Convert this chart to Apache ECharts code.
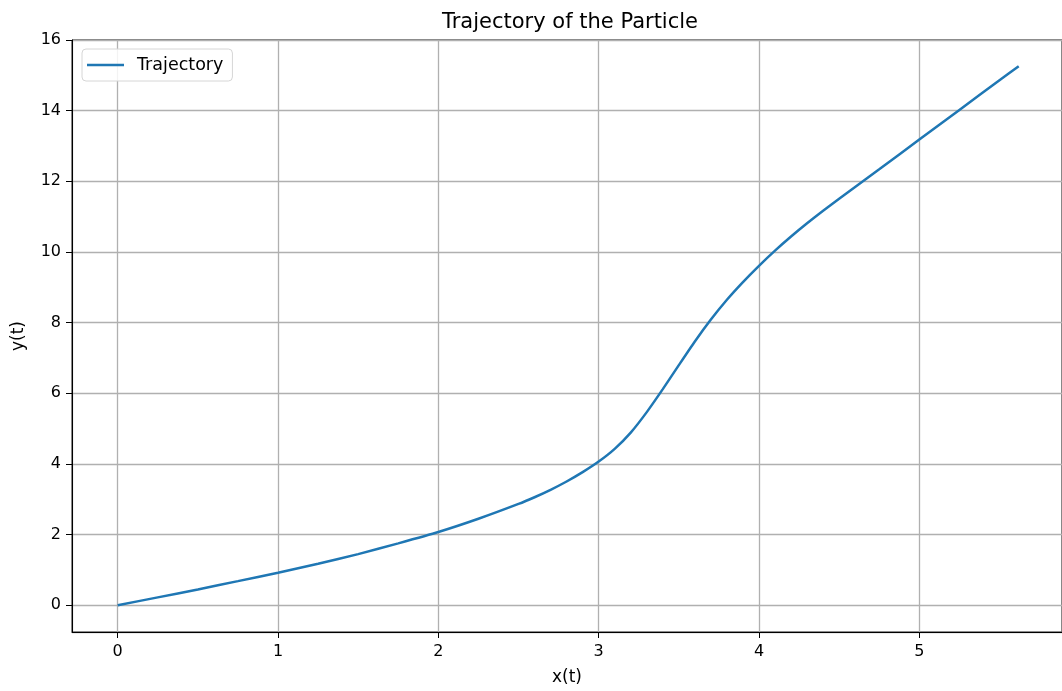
<!DOCTYPE html>
<html>
<head>
<meta charset="utf-8">
<script src="https://cdn.jsdelivr.net/npm/echarts@6/dist/echarts.min.js"></script>
<style>
html,body{margin:0;padding:0;background:#fff;}
#chart{width:1062px;height:691px;}
</style>
</head>
<body>
<div id="chart"></div>
<script>
// Data
const xValues = [0, 0.25, 0.5, 0.75, 1, 1.25, 1.5, 1.75, 2, 2.25, 2.5, 2.6, 2.7, 2.8, 2.9, 3, 3.1, 3.2, 3.3, 3.4, 3.5, 3.6, 3.7, 3.8, 3.9, 4, 4.1, 4.2, 4.3, 4.4, 4.5, 4.75, 5, 5.25, 5.5, 5.62];
const yValues = [0, 0.22, 0.445, 0.68, 0.92, 1.17, 1.445, 1.75, 2.07, 2.445, 2.865, 3.055, 3.265, 3.5, 3.765, 4.065, 4.425, 4.885, 5.465, 6.115, 6.795, 7.465, 8.085, 8.645, 9.145, 9.605, 10.035, 10.435, 10.81, 11.165, 11.505, 12.34, 13.18, 14.02, 14.86, 15.26];
const seriesName = 'Trajectory';
const chartTitle = 'Trajectory of the Particle';
const xLabel = 'x(t)';
const yLabel = 'y(t)';

const points = xValues.map((x, i) => [x, yValues[i]]);
const FONT = 'DejaVu Sans';
const isInt = v => Math.abs(v - Math.round(v)) < 1e-6;

const chart = echarts.init(document.getElementById('chart'), null, {renderer: 'canvas'});
chart.setOption({
  animation: false,
  backgroundColor: '#ffffff',
  title: {
    text: chartTitle,
    left: 565, top: 7, textAlign: 'center',
    textStyle: {fontFamily: FONT, fontSize: 21, fontWeight: 'normal', color: '#000'}
  },
  legend: {
    data: [{name: seriesName, icon: 'rect'}],
    left: 82, top: 49,
    itemWidth: 37, itemHeight: 2.5,
    padding: [7, 9, 7, 5],
    borderColor: '#d6d6d6', borderWidth: 1, borderRadius: 4,
    backgroundColor: 'rgba(255,255,255,0.85)',
    textStyle: {fontFamily: FONT, fontSize: 17.5, color: '#000', padding: [0, 0, 0, 8]}
  },
  grid: {
    left: 72, top: 40, width: 995, height: 594,
    show: true, borderColor: '#000', borderWidth: 1, backgroundColor: 'transparent'
  },
  xAxis: {
    type: 'value',
    min: -0.285, max: 5.89,
    splitNumber: 6,
    name: xLabel, nameLocation: 'middle', nameGap: 37,
    nameTextStyle: {fontFamily: FONT, fontSize: 17, color: '#000'},
    axisLine: {show: true, onZero: false, lineStyle: {color: '#000', width: 1}},
    axisTick: {show: true, length: 6, lineStyle: {color: '#000'}},
    axisLabel: {fontFamily: FONT, fontSize: 16, color: '#000', margin: 12,
      showMinLabel: false, showMaxLabel: false,
      formatter: v => isInt(v) ? String(Math.round(v)) : ''},
    splitLine: {show: true, lineStyle: {color: '#b0b0b0', width: 1.3}}
  },
  yAxis: {
    type: 'value',
    min: -0.76, max: 16,
    splitNumber: 8,
    name: yLabel, nameLocation: 'middle', nameGap: 45, nameRotate: 90,
    nameTextStyle: {fontFamily: FONT, fontSize: 17, color: '#000'},
    axisLine: {show: true, onZero: false, lineStyle: {color: '#000', width: 1}},
    axisTick: {show: true, length: 6, lineStyle: {color: '#000'}},
    axisLabel: {fontFamily: FONT, fontSize: 16, color: '#000', margin: 11,
      showMinLabel: false,
      formatter: v => isInt(v) ? String(Math.round(v)) : ''},
    splitLine: {show: true, lineStyle: {color: '#b0b0b0', width: 1.3}}
  },
  series: [{
    name: seriesName,
    type: 'line',
    data: points,
    smooth: 0.2,
    showSymbol: false,
    symbol: 'none',
    lineStyle: {color: '#1f77b4', width: 2.5},
    itemStyle: {color: '#1f77b4'}
  }]
});
</script>
</body>
</html>
